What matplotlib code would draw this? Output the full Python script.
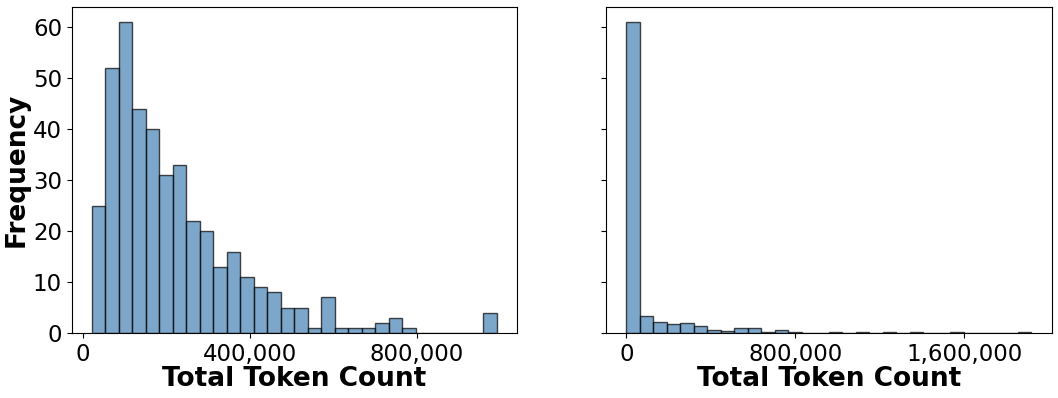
import numpy as np
import matplotlib
matplotlib.use("Agg")
import matplotlib.pyplot as plt
from matplotlib.ticker import FuncFormatter, MultipleLocator

# left panel: 30 bins, counts
left_range = (21600, 991500)
left_counts = [25, 52, 61, 44, 40, 31, 33, 22, 20, 13,
               16, 11, 9, 8, 5, 5, 1, 7, 1, 1,
               1, 2, 3, 1, 0, 0, 0, 0, 0, 4]

# right panel: 30 bins, heights
right_range = (0, 1918000)
right_counts = [61, 3.3, 2.1, 1.8, 2.0, 1.4, 0.6, 0.5, 1.0, 1.0,
                0.2, 0.6, 0.2, 0.08, 0.1, 0.3, 0.05, 0.15, 0.05, 0.15,
                0.05, 0.3, 0.05, 0.05, 0.15, 0.05, 0.05, 0.05, 0.05, 0.3]

left_ticks = [0, 400000, 800000]
right_ticks = [0, 800000, 1600000]

bar_color = "steelblue"

fig = plt.figure(figsize=(10.58, 3.98), dpi=100)
ax1 = fig.add_axes([0.0678, 0.163, 0.4206, 0.820])
ax2 = fig.add_axes([0.5728, 0.163, 0.4213, 0.820], sharey=ax1)

comma = FuncFormatter(lambda v, p: f"{int(v):,}")

for ax, rng, counts, ticks in [(ax1, left_range, left_counts, left_ticks),
                               (ax2, right_range, right_counts, right_ticks)]:
    edges = np.linspace(rng[0], rng[1], len(counts) + 1)
    ax.hist(edges[:-1], bins=edges, weights=counts, color=bar_color,
            edgecolor="black", alpha=0.7)
    ax.set_xticks(ticks)
    ax.xaxis.set_major_formatter(comma)
    ax.tick_params(labelsize=16.5)
    ax.set_xlabel("Total Token Count", fontsize=19, fontweight="bold", labelpad=0)

ax1.yaxis.set_major_locator(MultipleLocator(10))
ax1.set_ylabel("Frequency", fontsize=19, fontweight="bold", labelpad=2)
plt.setp(ax2.get_yticklabels(), visible=False)

fig.savefig("out.png", dpi=100)
